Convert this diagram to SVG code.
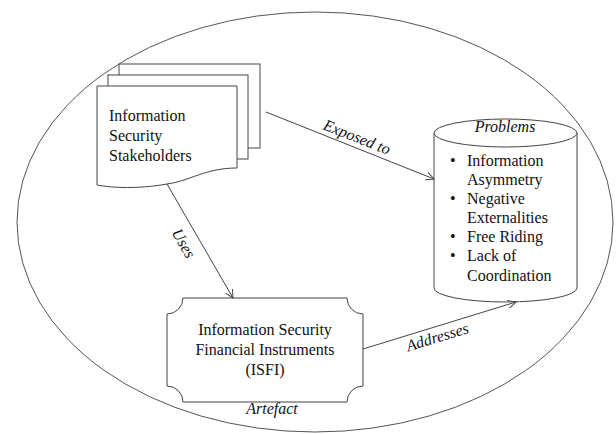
<svg xmlns="http://www.w3.org/2000/svg" width="616" height="434" viewBox="0 0 616 434">
<style>
.t{font-family:"Liberation Serif","Times New Roman",serif;font-size:16px;fill:#111}
.i{font-style:italic}
.s{fill:#fff;stroke:#444;stroke-width:1}
.c{fill:none;stroke:#444;stroke-width:1}
</style>
<defs>
<marker id="arr" markerWidth="10" markerHeight="10" refX="8" refY="4" orient="auto" markerUnits="userSpaceOnUse">
<path d="M0,0 L8,4 L0,8" fill="none" stroke="#444" stroke-width="1"/>
</marker>
</defs>
<rect width="616" height="434" fill="#fff"/>
<ellipse id="context" cx="315" cy="222" rx="298" ry="210" fill="none" stroke="#555" stroke-width="1"/>
<g id="stakeholders">
<rect class="s" x="119" y="64" width="141" height="84"/>
<rect class="s" x="108" y="75" width="140" height="84"/>
<path class="s" d="M97,86 H237 V168 C205,168 190,181 167,184 C140,189 112,188 97,185 Z"/>
<text class="t" x="109" y="121">Information</text>
<text class="t" x="109" y="141">Security</text>
<text class="t" x="109" y="161">Stakeholders</text>
</g>
<g id="problems">
<path class="s" d="M434,133 V288 A71.5,14 0 0 0 577,288 V133"/>
<ellipse class="s" cx="505.5" cy="133" rx="71.5" ry="14"/>
<text class="t i" x="505" y="132" text-anchor="middle">Problems</text>
<g class="t" font-size="16.5">
<text x="450" y="166">•</text><text x="467" y="166">Information</text>
<text x="467" y="185">Asymmetry</text>
<text x="450" y="204">•</text><text x="467" y="204">Negative</text>
<text x="467" y="223">Externalities</text>
<text x="450" y="242">•</text><text x="467" y="242">Free Riding</text>
<text x="450" y="261">•</text><text x="467" y="261">Lack of</text>
<text x="467" y="281">Coordination</text>
</g>
</g>
<g id="isfi">
<path class="s" d="M183,298 H347 A16,16 0 0 0 363,314 V386 A16,16 0 0 0 347,402 H183 A16,16 0 0 0 167,386 V314 A16,16 0 0 0 183,298 Z"/>
<text class="t" x="265" y="335" text-anchor="middle">Information Security</text>
<text class="t" x="265" y="355" text-anchor="middle">Financial Instruments</text>
<text class="t" x="265" y="375" text-anchor="middle">(ISFI)</text>
<text class="t i" x="272" y="414" text-anchor="middle">Artefact</text>
</g>
<g id="connectors">
<line class="c" x1="266" y1="112" x2="434" y2="179" marker-end="url(#arr)"/>
<line class="c" x1="167" y1="184" x2="233" y2="298" marker-end="url(#arr)"/>
<line class="c" x1="363" y1="349" x2="516" y2="302" marker-end="url(#arr)"/>
<text class="t i" x="355" y="142" text-anchor="middle" transform="rotate(21.5 355 142)">Exposed to</text>
<text class="t i" x="179" y="246" text-anchor="middle" transform="rotate(60 179 246)">Uses</text>
<text class="t i" x="439" y="342" text-anchor="middle" transform="rotate(-17 439 342)">Addresses</text>
</g>
</svg>
